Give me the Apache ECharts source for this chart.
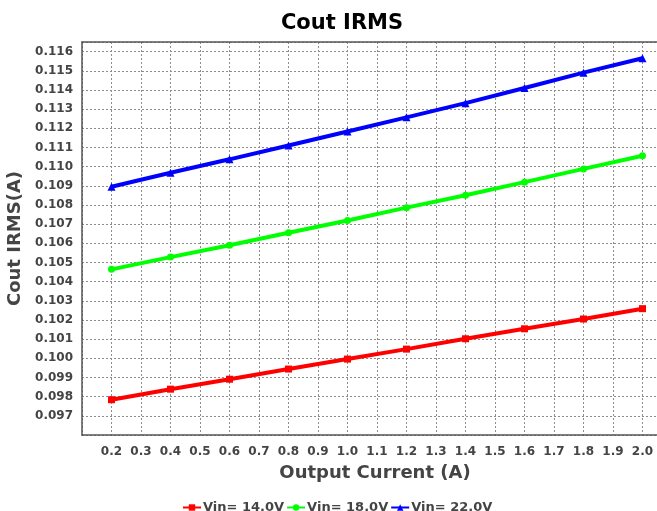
<!DOCTYPE html>
<html>
<head>
<meta charset="utf-8">
<script src="https://cdn.jsdelivr.net/npm/echarts@6/dist/echarts.min.js"></script>
<style>
  html, body { margin: 0; padding: 0; background: #fff; overflow: hidden; }
  #chart { width: 657px; height: 511px; }
</style>
</head>
<body>
<div id="chart"></div>
<script>
// output current (A)
var current = [0.2, 0.4, 0.6, 0.8, 1.0, 1.2, 1.4, 1.6, 1.8, 2.0]
// Cout IRMS (A) per input voltage
var vin14 = [0.09784, 0.09839, 0.09891, 0.09944, 0.09996, 0.10048, 0.10102, 0.10154, 0.10205, 0.10259]
var vin18 = [0.10464, 0.10528, 0.10590, 0.10655, 0.10719, 0.10786, 0.10851, 0.10919, 0.10988, 0.11057]
var vin22 = [0.10895, 0.10968, 0.11038, 0.11110, 0.11183, 0.11257, 0.11331, 0.11410, 0.11490, 0.11565]
var seriesNames = ['Vin= 14.0V', 'Vin= 18.0V', 'Vin= 22.0V']

var font = 'DejaVu Sans'
var labelColor = '#444'
var axisColor = '#555'
var xMin = 0.1
var xMax = 2.1

function pairs(ys) {
  return current.map(function (x, i) { return [x, ys[i]] })
}

function makeSeries(name, ys, color, symbol, size) {
  return {
    name: name,
    type: 'line',
    data: pairs(ys),
    symbol: symbol,
    symbolSize: size,
    showSymbol: true,
    lineStyle: { color: color, width: 4 },
    itemStyle: { color: color },
    emphasis: { disabled: true }
  }
}

var gridLine = { show: true, lineStyle: { color: '#8c8c8c', type: [2, 2], width: 1 } }

var chart = echarts.init(document.getElementById('chart'))
chart.setOption({
  animation: false,
  title: {
    text: 'Cout IRMS',
    left: 337,
    textAlign: 'center',
    top: 8,
    textStyle: { fontFamily: font, fontSize: 21, fontWeight: 'bold', color: '#000' }
  },
  legend: {
    left: 177,
    top: 496,
    itemWidth: 18,
    itemHeight: 8,
    itemGap: 2,
    data: seriesNames,
    textStyle: { fontFamily: font, fontSize: 13, fontWeight: 'bold', color: labelColor, padding: [0, 0, 0, -3] }
  },
  // plot runs past the right edge of the canvas, like the reference
  grid: {
    left: 82,
    width: 590,
    top: 42,
    bottom: 76,
    outerBoundsMode: 'none'
  },
  xAxis: [{
    type: 'value',
    min: xMin,
    max: xMax,
    interval: 0.1,
    name: 'Output Current (A)',
    nameLocation: 'middle',
    nameGap: 29,
    nameTextStyle: { fontFamily: font, fontSize: 18, fontWeight: 'bold', color: labelColor, padding: [0, 4, 0, 0] },
    axisLine: { show: true, lineStyle: { color: axisColor, width: 1.5 } },
    axisTick: { show: false },
    axisLabel: {
      margin: 11,
      showMinLabel: false,
      showMaxLabel: false,
      fontFamily: font,
      fontSize: 12,
      fontWeight: 'bold',
      color: labelColor,
      formatter: function (v) { return v.toFixed(1) }
    },
    splitLine: gridLine
  }, {
    // top frame line only
    type: 'value',
    position: 'top',
    min: xMin,
    max: xMax,
    axisLine: { show: true, onZero: false, lineStyle: { color: axisColor, width: 1.5 } },
    axisTick: { show: false },
    axisLabel: { show: false },
    splitLine: { show: false }
  }],
  yAxis: {
    type: 'value',
    min: 0.096,
    max: 0.1165,
    interval: 0.001,
    name: 'Cout IRMS(A)',
    nameLocation: 'middle',
    nameGap: 49,
    nameTextStyle: { fontFamily: font, fontSize: 18, fontWeight: 'bold', color: labelColor },
    axisLine: { show: true, onZero: false, lineStyle: { color: axisColor, width: 1.5 } },
    axisTick: { show: false },
    axisLabel: {
      margin: 9,
      showMinLabel: false,
      showMaxLabel: false,
      fontFamily: font,
      fontSize: 12,
      fontWeight: 'bold',
      color: labelColor,
      formatter: function (v) { return v.toFixed(3) }
    },
    splitLine: gridLine
  },
  series: [
    makeSeries(seriesNames[0], vin14, '#ff0000', 'rect', 7),
    makeSeries(seriesNames[1], vin18, '#00ff00', 'circle', 7),
    makeSeries(seriesNames[2], vin22, '#0000ff', 'triangle', 8)
  ]
})
</script>
</body>
</html>
